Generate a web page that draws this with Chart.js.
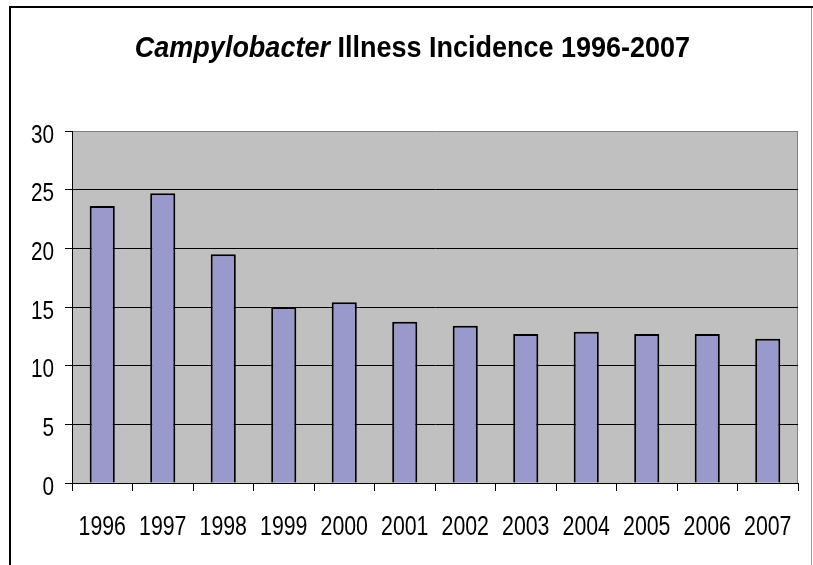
<!DOCTYPE html>
<html>
<head>
<meta charset="utf-8">
<script src="https://cdn.jsdelivr.net/npm/chart.js@4"></script>
<style>
  html, body { margin: 0; padding: 0; background: #ffffff; }
  #wrap { position: relative; width: 813px; height: 565px; overflow: hidden; }
  #chart { position: absolute; left: 0; top: 0; }
  #title {
    position: absolute; left: 0; top: 32px; width: 825px;
    text-align: center; font-family: "Liberation Sans", Arial, sans-serif;
    font-weight: bold; font-size: 30px; line-height: 30px; color: #000;
    transform: scaleX(0.9); transform-origin: 412.5px 0;
  }
</style>
</head>
<body>
<div id="wrap">
  <canvas id="chart" width="813" height="565"></canvas>
  <div id="title"><i>Campylobacter</i> Illness Incidence 1996-2007</div>
</div>
<script>
// Years on the category axis
const years = ['1996', '1997', '1998', '1999', '2000', '2001', '2002', '2003', '2004', '2005', '2006', '2007'];
// Illness incidence per year
const incidence = [23.6, 24.7, 19.5, 15.0, 15.4, 13.75, 13.4, 12.7, 12.9, 12.7, 12.7, 12.3];
// Value axis range and step
const yMin = 0;
const yMax = 30;
const yStep = 5;

const labelFamily = '"Liberation Sans", Arial, sans-serif';

// Grey plot area and the frame around the whole chart
const framePlugin = {
  id: 'frame',
  beforeDraw(chart) {
    const { ctx, chartArea: a } = chart;
    ctx.save();
    ctx.fillStyle = '#C0C0C0';
    ctx.fillRect(a.left, a.top, a.right - a.left, a.bottom - a.top);
    ctx.strokeStyle = '#808080';
    ctx.lineWidth = 1;
    ctx.beginPath();
    ctx.moveTo(Math.round(a.right) - 0.5, a.top);
    ctx.lineTo(Math.round(a.right) - 0.5, a.bottom);
    ctx.stroke();
    ctx.fillStyle = '#000000';
    ctx.fillRect(9, 6, 804, 2);
    ctx.fillRect(9, 6, 2, 559);
    ctx.fillStyle = '#9a9a9a';
    ctx.fillRect(811, 8, 1, 557);
    ctx.restore();
  }
};

// Axis labels in a narrow face, placed at the scales' own tick positions
const narrowLabels = {
  id: 'narrowLabels',
  afterDraw(chart) {
    const { ctx } = chart;
    const xs = chart.scales.x;
    const ys = chart.scales.y;
    ctx.save();
    ctx.fillStyle = '#000000';
    ctx.textBaseline = 'alphabetic';

    ctx.font = '27px ' + labelFamily;
    ctx.textAlign = 'center';
    xs.ticks.forEach((t, i) => {
      ctx.save();
      ctx.translate(xs.getPixelForTick(i), xs.top + 52);
      ctx.scale(0.79, 1);
      ctx.fillText(xs.getLabelForValue(t.value), 0, 0);
      ctx.restore();
    });

    ctx.font = '25px ' + labelFamily;
    ctx.textAlign = 'right';
    ys.ticks.forEach((t) => {
      ctx.save();
      ctx.translate(ys.right - 18, ys.getPixelForValue(t.value) + 11.5);
      ctx.scale(0.83, 1);
      ctx.fillText(String(t.value), 0, 0);
      ctx.restore();
    });
    ctx.restore();
  }
};

new Chart(document.getElementById('chart'), {
  type: 'bar',
  data: {
    labels: years,
    datasets: [{
      data: incidence,
      backgroundColor: '#9999CC',
      borderColor: '#000000',
      borderWidth: 2,
      categoryPercentage: 1.0,
      barPercentage: 0.415
    }]
  },
  options: {
    responsive: false,
    animation: false,
    devicePixelRatio: 1,
    layout: { padding: { left: 0, right: 15, top: 131, bottom: 0 } },
    plugins: { legend: { display: false }, title: { display: false }, tooltip: { enabled: false } },
    scales: {
      x: {
        offset: true,
        grid: { offset: true, drawOnChartArea: false, drawTicks: true, tickLength: 8, color: '#000000' },
        border: { display: true, color: '#000000', width: 1 },
        ticks: { display: false, autoSkip: false },
        afterFit(scale) { scale.height = 82; }
      },
      y: {
        min: yMin,
        max: yMax,
        grid: {
          drawTicks: true,
          tickLength: 7,
          color: (c) => (c.tick && c.tick.value === yMax ? '#808080' : '#000000'),
          tickColor: '#000000'
        },
        border: { display: true, color: '#000000', width: 1 },
        ticks: { display: false, stepSize: yStep },
        afterFit(scale) { scale.width = 72; }
      }
    }
  },
  plugins: [framePlugin, narrowLabels]
});
</script>
</body>
</html>
